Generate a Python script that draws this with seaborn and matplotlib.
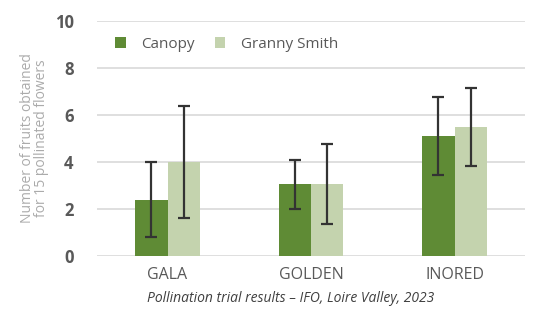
import pandas as pd
import seaborn as sns
import matplotlib.pyplot as plt

# values
varieties = ["GALA", "GOLDEN", "INORED"]
canopy = [2.4, 3.05, 5.1]
canopy_err = [1.6, 1.05, 1.65]
granny = [4.0, 3.05, 5.5]
granny_err = [2.4, 1.7, 1.65]
series = ["Canopy", "Granny Smith"]
colors = ["#5f8b35", "#c4d3ae"]

df = pd.DataFrame({
    "variety": varieties * 2,
    "pollinator": [series[0]] * 3 + [series[1]] * 3,
    "fruits": canopy + granny,
    "err": canopy_err + granny_err,
})

sns.set_style("white")
plt.rcParams["font.family"] = ["Open Sans", "DejaVu Sans"]

fig = plt.figure(figsize=(5.4, 3.13), dpi=100)
ax = fig.add_axes([0.18, 0.182, 0.792, 0.751])

sns.barplot(
    data=df,
    x="variety",
    y="fruits",
    hue="pollinator",
    palette=colors,
    width=0.45,
    errorbar=None,
    saturation=1,
    linewidth=0,
    ax=ax,
)

# error bars on the bar centres seaborn placed
for cont, name in zip(ax.containers, series):
    sub = df[df["pollinator"] == name]
    xs = [p.get_x() + p.get_width() / 2 for p in cont.patches]
    ax.errorbar(xs, sub["fruits"], yerr=sub["err"], fmt="none",
                ecolor="#333333", elinewidth=1.6, capsize=4, capthick=1.6, zorder=3)

ax.set_ylim(0, 10)
ax.set_xlim(-0.49, 2.49)
ax.set_yticks([0, 2, 4, 6, 8, 10])
ax.yaxis.grid(True, color="#d9d9d9", linewidth=1.2)
ax.set_axisbelow(True)
for s in ax.spines.values():
    s.set_visible(False)
ax.tick_params(axis="both", length=0)
ax.tick_params(axis="y", labelsize=12, labelcolor="#595959", pad=17)
for t in ax.get_yticklabels():
    t.set_fontweight("bold")
ax.tick_params(axis="x", labelsize=11.5, labelcolor="#595959", pad=8)

ax.set_xlabel("")
ax.set_ylabel("Number of fruits obtained\nfor 15 pollinated flowers",
              fontsize=10, color="#ababab", linespacing=0.95, labelpad=4)

ax.legend(loc="upper left", bbox_to_anchor=(0.01, 0.99), ncol=2, frameon=False,
          fontsize=11, labelcolor="#595959", handlelength=0.7, handleheight=0.7,
          columnspacing=1.3, handletextpad=1.0)

fig.text(0.538, 0.047, "Pollination trial results \u2013 IFO, Loire Valley, 2023",
         ha="center", va="center", fontsize=10, style="italic", color="#404040")

fig.savefig("out.png", dpi=100)
